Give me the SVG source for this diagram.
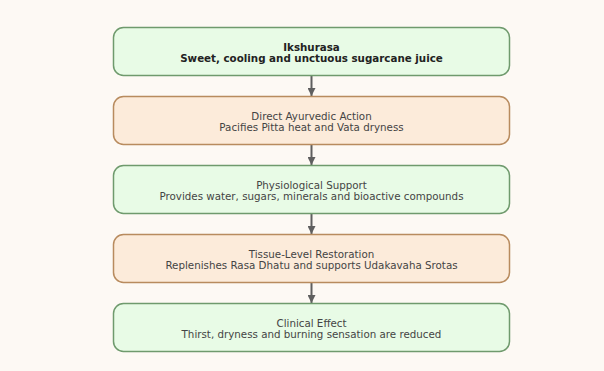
<svg xmlns="http://www.w3.org/2000/svg" width="604" height="371" viewBox="0 0 604 371">
<defs>
<style>
.g{fill:#e8fbe6;stroke:#6f9a6d;stroke-width:1.5}
.o{fill:#fcebda;stroke:#b88b5e;stroke-width:1.5}
text{font-family:"DejaVu Sans",sans-serif;font-size:10.3px;text-anchor:middle;fill:#444}
.b{font-weight:bold;fill:#222}
.c{stroke:#5f5f5f;stroke-width:2;fill:none}
</style>
<marker id="ah" viewBox="0 0 10 10" refX="10" refY="5" markerWidth="4" markerHeight="4" markerUnits="strokeWidth" orient="auto">
<path d="M0,0 L10,5 L0,10 z" fill="#5f5f5f"/>
</marker>
</defs>
<rect width="604" height="371" fill="#fdf9f4"/>
<g id="connectors">
<line class="c" x1="311.5" y1="76" x2="311.5" y2="96" marker-end="url(#ah)"/>
<line class="c" x1="311.5" y1="145" x2="311.5" y2="165" marker-end="url(#ah)"/>
<line class="c" x1="311.5" y1="214" x2="311.5" y2="234" marker-end="url(#ah)"/>
<line class="c" x1="311.5" y1="283" x2="311.5" y2="303" marker-end="url(#ah)"/>
</g>
<g id="n1">
<rect class="g" x="113.5" y="27.5" width="396" height="48" rx="10"/>
<text class="b" x="311.5" y="50.5">Ikshurasa</text>
<text class="b" x="311.5" y="62">Sweet, cooling and unctuous sugarcane juice</text>
</g>
<g id="n2">
<rect class="o" x="113.5" y="96.5" width="396" height="48" rx="10"/>
<text x="311.5" y="119.5">Direct Ayurvedic Action</text>
<text x="311.5" y="131">Pacifies Pitta heat and Vata dryness</text>
</g>
<g id="n3">
<rect class="g" x="113.5" y="165.5" width="396" height="48" rx="10"/>
<text x="311.5" y="188.5">Physiological Support</text>
<text x="311.5" y="200">Provides water, sugars, minerals and bioactive compounds</text>
</g>
<g id="n4">
<rect class="o" x="113.5" y="234.5" width="396" height="48" rx="10"/>
<text x="311.5" y="257.5">Tissue-Level Restoration</text>
<text x="311.5" y="269">Replenishes Rasa Dhatu and supports Udakavaha Srotas</text>
</g>
<g id="n5">
<rect class="g" x="113.5" y="303.5" width="396" height="48" rx="10"/>
<text x="311.5" y="326.5">Clinical Effect</text>
<text x="311.5" y="338">Thirst, dryness and burning sensation are reduced</text>
</g>
</svg>
